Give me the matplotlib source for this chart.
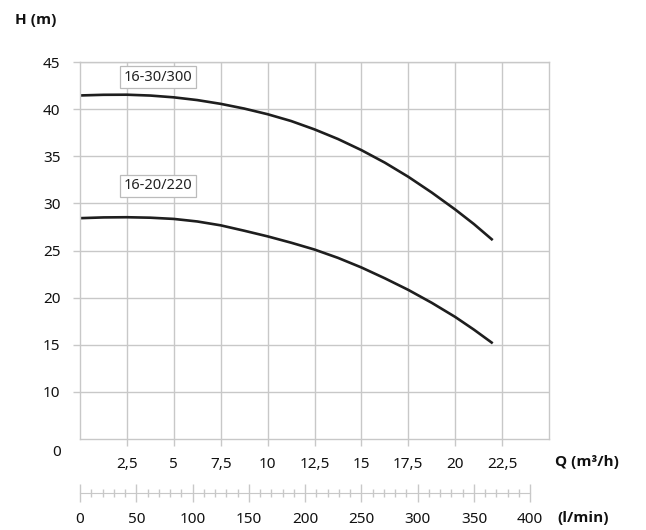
import numpy as np
from matplotlib import pyplot as plt
from matplotlib.ticker import FixedLocator

plt.rcParams['font.family'] = ['Noto Sans', 'DejaVu Sans']

# flow (m3/h) and head (m)
q = [0, 1.25, 2.5, 3.75, 5, 6.25, 7.5, 8.75, 10, 11.25, 12.5, 13.75, 15, 16.25, 17.5, 18.75, 20, 21, 22]
h_300 = [41.45, 41.52, 41.53, 41.44, 41.25, 40.96, 40.56, 40.06, 39.46, 38.74, 37.85, 36.83,
	35.65, 34.32, 32.82, 31.15, 29.35, 27.8, 26.1]
h_220 = [28.43, 28.51, 28.53, 28.48, 28.35, 28.08, 27.67, 27.1, 26.5, 25.83, 25.1, 24.22,
	23.2, 22.05, 20.82, 19.45, 17.95, 16.6, 15.15]
names = ["16-30/300", "16-20/220"]
label_pos = [(4.15, 43.4), (4.15, 31.85)]

q_ticks = [2.5, 5, 7.5, 10, 12.5, 15, 17.5, 20, 22.5]
q_labels = ["2,5", "5", "7,5", "10", "12,5", "15", "17,5", "20", "22,5"]
h_ticks = [10, 15, 20, 25, 30, 35, 40, 45]
lmin_ticks = [0, 50, 100, 150, 200, 250, 300, 350, 400]
lmin_minor = list(range(0, 401, 10))

grid_col = "#c8c8c8"
txt_col = "#111111"
bold_font = ['Open Sans', 'DejaVu Sans']

fig = plt.figure(figsize=(6.46, 5.30), dpi=100)
ax = fig.add_axes([80/646, 1-439/530, 469/646, 377/530])

for h in [h_300, h_220]:
	ax.plot(q, h, color="#1e1e1e", lw=1.9, solid_capstyle="butt", solid_joinstyle="round")

for name, (x, y) in zip(names, label_pos):
	ax.text(x, y, name, fontsize=10.5, ha="center", va="center", color="#222222",
		bbox=dict(boxstyle="square,pad=0.25", fc="white", ec="#bbbbbb", lw=0.9))

ax.set_xlim(0, 25)
ax.set_ylim(5, 45)
ax.set_xticks(q_ticks)
ax.set_xticklabels(q_labels)
ax.set_yticks(h_ticks)
ax.grid(True, color=grid_col, lw=1)
ax.set_axisbelow(True)
for s in ax.spines.values():
	s.set_color(grid_col)
	s.set_linewidth(1)
ax.tick_params(axis="both", color=grid_col, length=5, width=1, labelsize=11, labelcolor=txt_col)
ax.tick_params(axis="x", pad=8)
ax.tick_params(axis="y", pad=9)

# lonely "0" under the y axis
ax.text(-0.04, 3.6, "0", transform=ax.get_yaxis_transform(), ha="right", va="center",
	fontsize=11, color=txt_col, clip_on=False)

fig.text(15/646, 1-20/530, "H (m)", fontsize=11, fontweight="bold", va="center", color=txt_col, family=bold_font)
fig.text(555/646, 1-462/530, "Q (m³/h)", fontsize=11, fontweight="bold", va="center", color=txt_col, family=bold_font)
fig.text(557/646, 1-518/530, "(l/min)", fontsize=11, fontweight="bold", va="center", color=txt_col, family=bold_font)

# second scale in l/min
ax2 = fig.add_axes([80/646, 1-493/530, 469/646, 0.0001])
ax2.set_xlim(0, 25*1000/60)
ax2.set_yticks([])
ax2.patch.set_visible(False)
for k in ["top", "left", "right"]:
	ax2.spines[k].set_visible(False)
ax2.spines["bottom"].set_color(grid_col)
ax2.spines["bottom"].set_bounds(0, 400)
ax2.set_xticks(lmin_ticks)
ax2.xaxis.set_minor_locator(FixedLocator(lmin_minor))
ax2.tick_params(axis="x", which="major", direction="inout", length=13, width=1, color=grid_col,
	labelsize=11, labelcolor=txt_col, pad=7.5)
ax2.tick_params(axis="x", which="minor", direction="inout", length=6, width=1, color=grid_col)

plt.savefig("out.png", dpi=100)
